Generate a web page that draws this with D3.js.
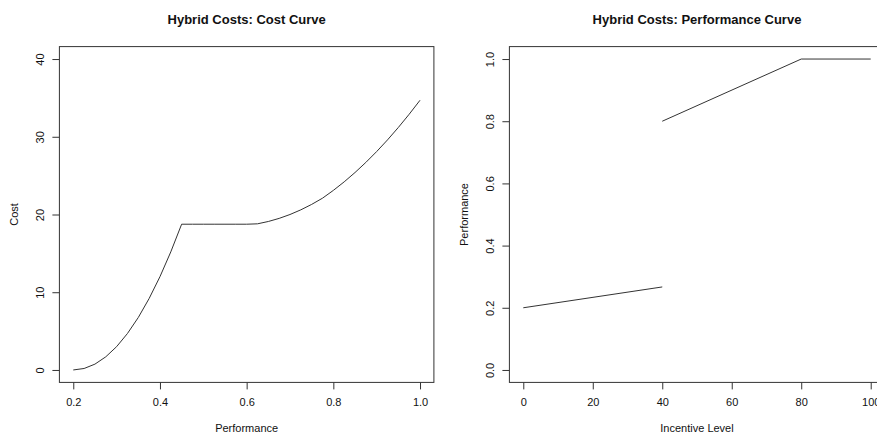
<!DOCTYPE html>
<html>
<head>
<meta charset="utf-8">
<script src="https://cdn.jsdelivr.net/npm/d3@7"></script>
<style>
    body { margin: 0; background: #fff; }
    text { font-family: "Liberation Sans", Arial, Helvetica, sans-serif; fill: #111; }
</style>
</head>
<body>
<div id="chart"></div>
<script>
// cost curve
const costPerf = [0.2, 0.225, 0.25, 0.275, 0.3, 0.325, 0.35, 0.375, 0.4, 0.425, 0.45,
    0.475, 0.5, 0.525, 0.55, 0.575, 0.6, 0.625, 0.65, 0.675, 0.7, 0.725, 0.75,
    0.775, 0.8, 0.825, 0.85, 0.875, 0.9, 0.925, 0.95, 0.975, 1.0];
const costValues = [0, 0.19, 0.75, 1.69, 3.0, 4.69, 6.75, 9.19, 12.0, 15.19, 18.75,
    18.75, 18.75, 18.75, 18.75, 18.75, 18.75, 18.8, 19.1, 19.5, 20.0, 20.6, 21.3,
    22.1, 23.1, 24.2, 25.4, 26.7, 28.1, 29.6, 31.2, 32.9, 34.7];

// performance curve, two pieces with a jump at 40
const lowIncentive = [0, 40];
const lowPerf = [0.2, 0.267];
const highIncentive = [40, 80, 100];
const highPerf = [0.8, 1.0, 1.0];

const costXTicks = [0.2, 0.4, 0.6, 0.8, 1.0];
const costYTicks = [0, 10, 20, 30, 40];
const perfXTicks = [0, 20, 40, 60, 80, 100];
const perfYTicks = [0, 0.2, 0.4, 0.6, 0.8, 1.0];

const W = 877, H = 435;
const plotTop = 46.6, plotBottom = 382.4;

const svg = d3.select("#chart")
    .append("svg")
    .attr("width", W)
    .attr("height", H);

// R style 4% padding on each side
const pad = ([a, b]) => [a - (b - a) * 0.04, b + (b - a) * 0.04];

function drawPanel(p) {
    const x = d3.scaleLinear().domain(pad(p.xLim)).range([p.left, p.right]);
    const y = d3.scaleLinear().domain(pad(p.yLim)).range([plotBottom, plotTop]);

    const g = svg.append("g");

    const xAxis = g.append("g")
        .attr("transform", `translate(0,${plotBottom})`)
        .call(d3.axisBottom(x).tickValues(p.xTicks).tickFormat(p.xFmt).tickSize(7).tickSizeOuter(0).tickPadding(9));
    xAxis.select(".domain").remove();
    xAxis.selectAll("line").attr("stroke", "#333");
    xAxis.selectAll("text")
        .attr("font-size", 11)
        .attr("font-family", null)
        .attr("fill", "#111");

    const yAxis = g.append("g")
        .attr("transform", `translate(${p.left},0)`)
        .call(d3.axisLeft(y).tickValues(p.yTicks).tickFormat(p.yFmt).tickSize(7).tickSizeOuter(0));
    yAxis.select(".domain").remove();
    yAxis.selectAll("line").attr("stroke", "#333");
    yAxis.selectAll("text")
        .attr("x", 0)
        .attr("dy", 0)
        .attr("text-anchor", "middle")
        .attr("transform", "translate(-15,0) rotate(-90)")
        .attr("font-size", 11)
        .attr("font-family", null)
        .attr("fill", "#111");

    const line = d3.line().x(d => x(d[0])).y(d => y(d[1]));
    p.series.forEach(s => {
        g.append("path")
            .datum(s)
            .attr("d", line)
            .attr("fill", "none")
            .attr("stroke", "#333")
            .attr("stroke-width", 1);
    });

    g.append("rect")
        .attr("x", p.left)
        .attr("y", plotTop)
        .attr("width", p.right - p.left)
        .attr("height", plotBottom - plotTop)
        .attr("fill", "none")
        .attr("stroke", "#333")
        .attr("stroke-width", 1);

    const cx = (p.left + p.right) / 2;
    g.append("text")
        .attr("x", cx)
        .attr("y", 24)
        .attr("text-anchor", "middle")
        .attr("font-size", 13)
        .attr("font-weight", "bold")
        .text(p.title);

    g.append("text")
        .attr("x", cx)
        .attr("y", 432)
        .attr("text-anchor", "middle")
        .attr("font-size", 11)
        .text(p.xLabel);

    g.append("text")
        .attr("transform", `translate(${p.left - 41},${(plotTop + plotBottom) / 2}) rotate(-90)`)
        .attr("text-anchor", "middle")
        .attr("font-size", 11)
        .text(p.yLabel);
}

drawPanel({
    left: 59.4, right: 433.9,
    xLim: [0.2, 1.0], yLim: [0, 40],
    xTicks: costXTicks, yTicks: costYTicks,
    xFmt: d3.format(".1f"), yFmt: d3.format("d"),
    series: [costPerf.map((v, i) => [v, costValues[i]])],
    title: "Hybrid Costs: Cost Curve",
    xLabel: "Performance", yLabel: "Cost"
});

drawPanel({
    left: 509.4, right: 884.6,
    xLim: [0, 100], yLim: [0, 1],
    xTicks: perfXTicks, yTicks: perfYTicks,
    xFmt: d3.format("d"), yFmt: d3.format(".1f"),
    series: [
        lowIncentive.map((v, i) => [v, lowPerf[i]]),
        highIncentive.map((v, i) => [v, highPerf[i]])
    ],
    title: "Hybrid Costs: Performance Curve",
    xLabel: "Incentive Level", yLabel: "Performance"
});
</script>
</body>
</html>
